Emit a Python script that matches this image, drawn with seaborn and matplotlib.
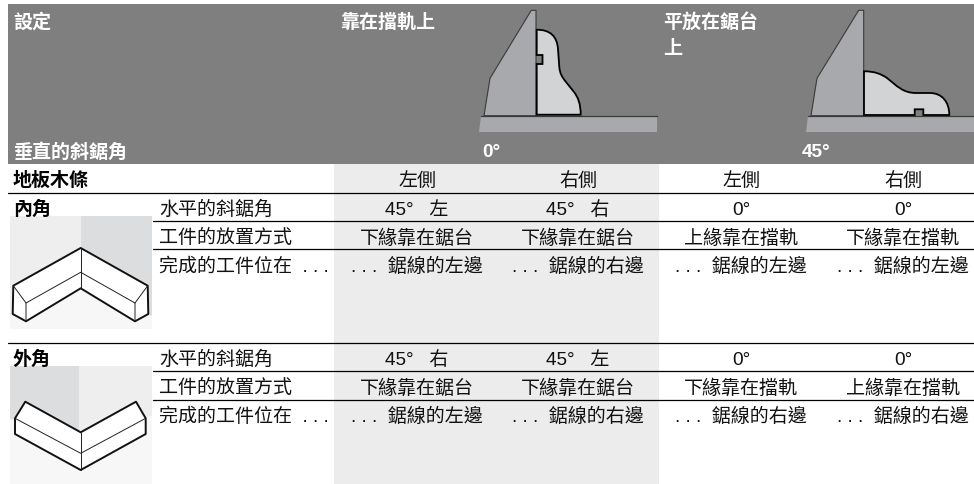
import matplotlib
matplotlib.use('Agg')
import matplotlib.pyplot as plt
import pandas as pd
import seaborn as sns
from matplotlib.patches import PathPatch, Polygon
from matplotlib.path import Path

# Table texts
head_labels = ['設定', '靠在擋軌上', '平放在鋸台']
head_wrap = '上'
head_row = '垂直的斜鋸角'
head_angles = ['0°', '45°']
section = '地板木條'
sides = ['左側', '右側', '左側', '右側']
row_names = ['水平的斜鋸角', '工件的放置方式', '完成的工件位在  . . .']
corner_names = ['內角', '外角']
inner_rows = [
    ['45°   左', '45°   右', '0°', '0°'],
    ['下緣靠在鋸台', '下緣靠在鋸台', '上緣靠在擋軌', '下緣靠在擋軌'],
    ['. . .  鋸線的左邊', '. . .  鋸線的右邊', '. . .  鋸線的左邊', '. . .  鋸線的左邊'],
]
outer_rows = [
    ['45°   右', '45°   左', '0°', '0°'],
    ['下緣靠在鋸台', '下緣靠在鋸台', '下緣靠在擋軌', '上緣靠在擋軌'],
    ['. . .  鋸線的左邊', '. . .  鋸線的右邊', '. . .  鋸線的右邊', '. . .  鋸線的右邊'],
]
col_centers = [417, 578, 741, 903]
inner_baselines = [215, 243.5, 272.5]
outer_baselines = [365, 393.5, 422]

# Rule lines: y position and left end
rule_y = [193.5, 221.5, 250, 343.5, 371.5, 400.5]
rule_x0 = [8, 153, 153, 8, 153, 153]

# Saw drawings (fence, base, molding), pixel outlines
fence_a = [(531.3, 11.3), (536, 11.3), (536, 116.7), (484, 116.7), (490, 79.3)]
base_a = [(481, 117.3), (656.7, 117.3), (656.7, 132.7), (479, 132.7)]
fence_b = [(858.7, 11.3), (863.7, 11.3), (863.7, 116.7), (811, 116.7), (817, 79.3)]
base_b = [(807.7, 117.3), (974, 117.3), (974, 132.7), (806.3, 132.7)]
molding_a = [
    (Path.MOVETO, (536.7, 30.7)), (Path.CURVE4, (550, 30.7)), (Path.CURVE4, (557, 37)),
    (Path.CURVE4, (558, 50)), (Path.LINETO, (559.3, 68)), (Path.CURVE4, (560, 75)),
    (Path.CURVE4, (562, 78)), (Path.CURVE4, (566, 83)), (Path.LINETO, (574, 93)),
    (Path.CURVE4, (578, 98)), (Path.CURVE4, (580.7, 105)), (Path.CURVE4, (580.7, 115.7)),
    (Path.LINETO, (536.7, 115.7)), (Path.LINETO, (536.7, 65)), (Path.LINETO, (542.5, 65)),
    (Path.LINETO, (542.5, 56)), (Path.LINETO, (536.7, 56)), (Path.CLOSEPOLY, (536.7, 30.7)),
]
molding_b = [
    (Path.MOVETO, (864, 72.3)), (Path.CURVE4, (875, 72.3)), (Path.CURVE4, (881, 75)),
    (Path.CURVE4, (887, 79)), (Path.CURVE4, (897, 87)), (Path.CURVE4, (903, 94)),
    (Path.CURVE4, (916, 94)), (Path.LINETO, (930, 94)), (Path.CURVE4, (942, 94)),
    (Path.CURVE4, (949.3, 103)), (Path.CURVE4, (949.3, 116)), (Path.LINETO, (923.3, 116)),
    (Path.LINETO, (923.3, 110.3)), (Path.LINETO, (914.7, 110.3)), (Path.LINETO, (914.7, 116)),
    (Path.LINETO, (864, 116)), (Path.CLOSEPOLY, (864, 72.3)),
]

# Corner drawings: background walls and the molding
wall_in_left = [(10, 217), (81, 217), (81, 276), (10, 317)]
wall_in_right = [(81, 217), (152, 217), (152, 317), (81, 276)]
floor_in = [(10, 317), (81, 276), (152, 317), (152, 330), (10, 330)]
shape_in = [(80.7, 249), (147.7, 286.7), (148.3, 315), (135, 322.3), (80.7, 289.3),
            (26, 322.3), (12.7, 315), (13.3, 286.7)]
thin_in = [
    [(26, 304), (80.7, 273.3), (135, 304)],
    [(80.7, 249), (80.7, 289.3)],
    [(13.3, 286.7), (26, 304), (26, 322.3)],
    [(147.7, 286.7), (135, 304), (135, 322.3)],
]
wall_out_left = [(10, 367), (79, 367), (79, 432), (10, 420)]
wall_out_right = [(79, 367), (152, 367), (152, 417), (79, 432)]
floor_out = [(10, 420), (79, 432), (152, 417), (152, 485), (10, 485)]
shape_out = [(25.3, 402.7), (80.7, 433.3), (136, 402.7), (145.7, 419.3), (145.7, 435),
             (80.7, 471), (15, 435), (15, 419.3)]
thin_out = [
    [(15, 419.3), (80.7, 454.3), (145.7, 419.3)],
    [(80.7, 433.3), (80.7, 471)],
]

GRAY = '#7f7f7f'
BAND = '#ececec'
METAL = '#a7a9ac'
WOOD = '#d1d3d4'
WALL_D = '#dcddde'
WALL_L = '#eeeeef'
FLOOR = '#f7f7f7'
FONTS = ['Liberation Sans', 'Noto Sans CJK TC']
SIZE = 13.7

sns.set_theme(style='white')
plt.rcParams['font.family'] = FONTS

fig = plt.figure(figsize=(9.74, 4.85), dpi=100)
ax = fig.add_axes([0, 0, 1, 1])

# Background blocks
ax.add_patch(Polygon([(8, 5), (974, 5), (974, 164.5), (8, 164.5)], fc=GRAY, ec='none', zorder=1))
ax.add_patch(Polygon([(334, 164.5), (659, 164.5), (659, 485), (334, 485)], fc=BAND, ec='none', zorder=1))

# Rule lines through seaborn
rules = pd.DataFrame({
    'x': [v for x0 in rule_x0 for v in (x0, 974)],
    'y': [v for y in rule_y for v in (y, y)],
    'rule': [i for i in range(len(rule_y)) for _ in range(2)],
})
sns.lineplot(data=rules, x='x', y='y', units='rule', estimator=None, sort=False,
             color='black', linewidth=0.9, ax=ax, legend=False, zorder=3)


def draw_saw(fence, base, molding):
    ax.add_patch(Polygon(fence, fc=METAL, ec='#3a3a3a', lw=0.8, zorder=4))
    ax.add_patch(Polygon(base, fc=METAL, ec='none', zorder=4))
    ax.plot([base[0][0], base[1][0]], [base[0][1], base[1][1]], color='#3a3a3a', lw=0.9, zorder=5)
    codes, verts = zip(*molding)
    ax.add_patch(PathPatch(Path(verts, codes), fc=WOOD, ec='black', lw=1.3, zorder=6))


def draw_corner(left, right, floor, left_color, right_color, shape, thin):
    ax.add_patch(Polygon(floor, fc=FLOOR, ec='none', zorder=2))
    ax.add_patch(Polygon(left, fc=left_color, ec='none', zorder=2))
    ax.add_patch(Polygon(right, fc=right_color, ec='none', zorder=2))
    ax.add_patch(Polygon(shape, fc='white', ec='#111111', lw=1.4, joinstyle='round', zorder=5))
    for line in thin:
        xs, ys = zip(*line)
        ax.plot(xs, ys, color='#222222', lw=0.7, zorder=6)


draw_saw(fence_a, base_a, molding_a)
draw_saw(fence_b, base_b, molding_b)
draw_corner(wall_in_left, wall_in_right, floor_in, WALL_L, WALL_D, shape_in, thin_in)
draw_corner(wall_out_left, wall_out_right, floor_out, WALL_D, WALL_L, shape_out, thin_out)

# Header texts
for x, label in zip([13, 340, 663], head_labels):
    ax.text(x, 28, label, color='white', fontsize=SIZE, fontweight='bold', va='baseline', zorder=7)
ax.text(663, 54, head_wrap, color='white', fontsize=SIZE, fontweight='bold', va='baseline', zorder=7)
ax.text(13, 157.5, head_row, color='white', fontsize=SIZE, fontweight='bold', va='baseline', zorder=7)
for x, label in zip([482, 802], head_angles):
    ax.text(x, 157.5, label, color='white', fontsize=SIZE, fontweight='bold', va='baseline', zorder=7)

# Table body
ax.text(13, 186, section, color='black', fontsize=SIZE, fontweight='bold', va='baseline', zorder=7)
for x, label in zip(col_centers, sides):
    ax.text(x, 186, label, color='#111111', fontsize=SIZE, ha='center', va='baseline', zorder=7)

for name, baselines, rows in zip(corner_names, [inner_baselines, outer_baselines], [inner_rows, outer_rows]):
    ax.text(13, baselines[0], name, color='black', fontsize=SIZE, fontweight='bold', va='baseline', zorder=4)
    for y, row_name, row in zip(baselines, row_names, rows):
        ax.text(159, y, row_name, color='#111111', fontsize=SIZE, va='baseline', zorder=7)
        for x, value in zip(col_centers, row):
            ax.text(x, y, value, color='#111111', fontsize=SIZE, ha='center', va='baseline', zorder=7)

ax.set_xlim(0, 974)
ax.set_ylim(485, 0)
ax.axis('off')

fig.savefig('out.png', dpi=100, facecolor='white')
